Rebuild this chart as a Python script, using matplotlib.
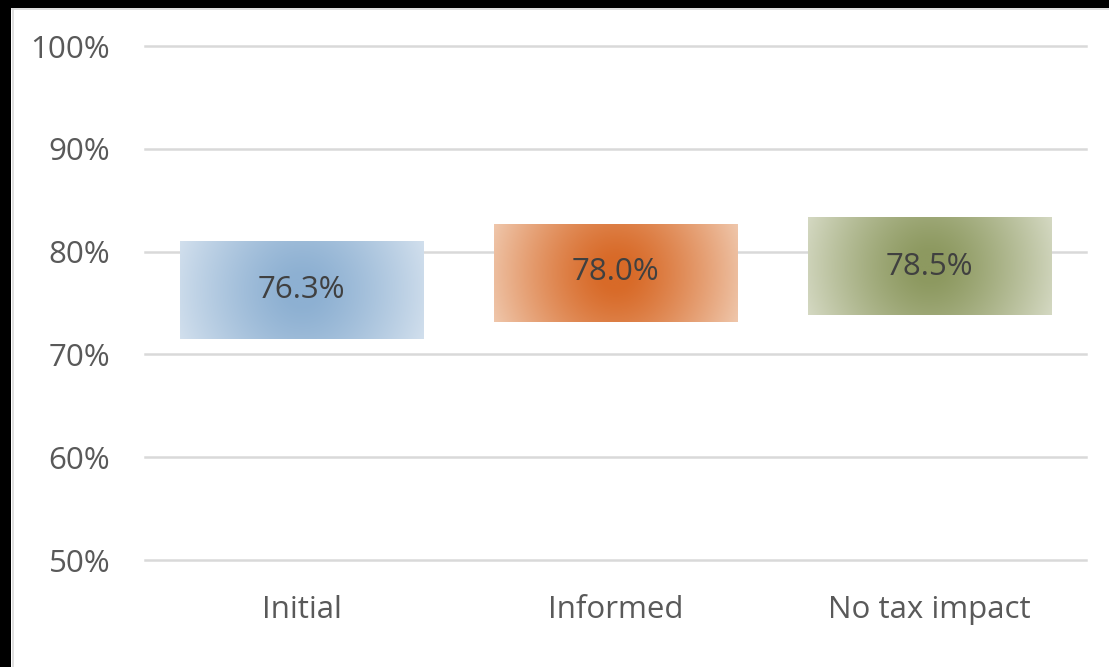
import numpy as np
import matplotlib
matplotlib.use("Agg")
import matplotlib.pyplot as plt
from matplotlib.colors import to_rgb
from matplotlib.patches import Rectangle
from matplotlib.ticker import PercentFormatter, MultipleLocator

# Scenario estimates with their interval bounds (shares)
categories = ["Initial", "Informed", "No tax impact"]
values = [0.763, 0.780, 0.785]
lower = [0.715, 0.732, 0.738]
upper = [0.810, 0.827, 0.833]

# Centre / edge colours of the radial fill for each box
center_colors = ["#8DB0D2", "#D86A28", "#8D9960"]
edge_colors = ["#D4E1EE", "#F0CAB0", "#D7DBC6"]

plt.rcParams["font.family"] = ["Open Sans", "DejaVu Sans"]

fig = plt.figure(figsize=(11.09, 6.67), dpi=100, facecolor="white")
ax = fig.add_axes([145 / 1109, 1 - 560 / 667, (1086 - 145) / 1109, (560 - 46) / 667])

ax.set_xlim(-0.5, len(categories) - 0.5)
ax.set_ylim(0.5, 1.0)
ax.yaxis.set_major_locator(MultipleLocator(0.1))
ax.yaxis.set_major_formatter(PercentFormatter(1.0, decimals=0))
ax.grid(axis="y", color="#D9D9D9", linewidth=1.8, zorder=0)
ax.set_axisbelow(True)
for s in ax.spines.values():
    s.set_visible(False)
ax.tick_params(axis="both", length=0, labelsize=22.5, colors="#595959")
ax.tick_params(axis="y", pad=25)
ax.tick_params(axis="x", pad=25.5)
ax.set_xticks(range(len(categories)))
ax.set_xticklabels(categories)
for gl in ax.get_ygridlines():
    gl.set_clip_on(False)

box_width = 0.775


def radial_fill(x0, x1, y0, y1, c_in, c_out):
    # pixel size of the box, so the gradient is round on screen
    p0 = ax.transData.transform((x0, y0))
    p1 = ax.transData.transform((x1, y1))
    wpx, hpx = abs(p1[0] - p0[0]), abs(p1[1] - p0[1])
    nx, ny = int(wpx), int(hpx)
    xs = (np.arange(nx) + 0.5 - nx / 2)
    ys = (np.arange(ny) + 0.5 - ny / 2)
    X, Y = np.meshgrid(xs, ys)
    d = np.hypot(X, Y)
    r0, r1 = 14.0, 0.55 * wpx
    t = np.clip((d - r0) / (r1 - r0), 0, 1)
    t = t ** 1.25
    ci, co = np.array(to_rgb(c_in)), np.array(to_rgb(c_out))
    img = ci[None, None, :] * (1 - t[..., None]) + co[None, None, :] * t[..., None]
    ax.imshow(img, extent=(x0, x1, y0, y1), aspect="auto", origin="lower",
              interpolation="bilinear", zorder=2)


for i, (v, lo, hi) in enumerate(zip(values, lower, upper)):
    radial_fill(i - box_width / 2, i + box_width / 2, lo, hi,
                center_colors[i], edge_colors[i])
    ax.text(i, v, f"{v * 100:.1f}%", ha="center", va="center",
            fontsize=22.5, color="#404040", zorder=3)

ax.set_xlim(-0.5, len(categories) - 0.5)
ax.set_ylim(0.5, 1.0)

# frame: dark band on the top and left, with a light chart-area edge
W, H = 1109, 667
fig.patches.append(Rectangle((0, 1 - 8 / H), 1, 8 / H, transform=fig.transFigure,
                             facecolor="black", edgecolor="none", zorder=5))
fig.patches.append(Rectangle((0, 0), 11 / W, 1, transform=fig.transFigure,
                             facecolor="black", edgecolor="none", zorder=5))
fig.lines.append(plt.Line2D([11.5 / W, 1], [1 - 9 / H, 1 - 9 / H], transform=fig.transFigure,
                            color="#D9D9D9", linewidth=1.2, zorder=4))
fig.lines.append(plt.Line2D([12.5 / W, 12.5 / W], [0, 1 - 8 / H], transform=fig.transFigure,
                            color="#D9D9D9", linewidth=1.2, zorder=4))

fig.savefig("out.png", dpi=100, facecolor="white")
